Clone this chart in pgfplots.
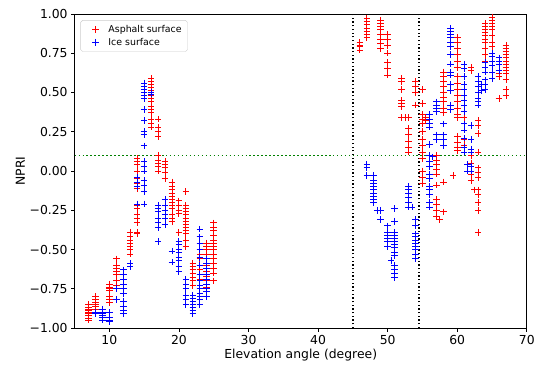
\documentclass[border=0pt]{standalone}
\usepackage{pgfplots}
\pgfplotsset{compat=1.18}
\usepackage{fontspec}
\setmainfont{DejaVu Sans}
\definecolor{mplgreen}{RGB}{0,128,0}
\definecolor{myred}{RGB}{255,0,0}
\definecolor{myblue}{RGB}{0,0,255}
\begin{document}
\begin{tikzpicture}
\begin{axis}[
 name=ax,
 scale only axis, width=455bp, height=316bp,
 xmin=5, xmax=70, ymin=-1, ymax=1,
 xtick={10,20,...,70},
 ytick={-1,-0.75,-0.5,-0.25,0,0.25,0.5,0.75,1},
 yticklabels={−1.00,−0.75,−0.50,−0.25,0.00,0.25,0.50,0.75,1.00},
 tick align=outside, tick pos=left, major tick length=3.5bp,
 ticklabel style={font=\fontsize{12.5}{14}\selectfont},
 label style={font=\fontsize{12.5}{14}\selectfont},
 xlabel={Elevation angle (degree)}, ylabel={NPRI},
 xlabel style={yshift=2bp},
 ylabel style={yshift=-2bp},
 /pgf/number format/assume math mode=true,
 axis line style={line width=0.8bp},
 every tick/.style={line width=0.8bp},
 legend style={at={(0.013,0.98)}, anchor=north west, draw=black!20, rounded corners=2bp,
   font=\fontsize{9.5}{11}\selectfont, inner xsep=4bp, inner ysep=3bp, row sep=0bp},
 legend image code/.code={\path[draw=none,fill=none] (0bp,0bp) (22bp,0bp); \draw[mark repeat=2, mark phase=2] plot coordinates {(0bp,0bp)(11bp,0bp)(22bp,0bp)};},
 legend cell align=left,
]
\addplot[only marks, mark=+, mark size=3.3bp, draw=myred, line width=0.9bp, mark options={draw=myred}] coordinates {
(7,-0.85)(7,-0.87)(7,-0.88)(7,-0.89)(7,-0.90)(7,-0.91)(7,-0.92)(7,-0.94)(7,-0.95)
(8,-0.80)(8,-0.82)(8,-0.84)(8,-0.85)(8,-0.86)(8,-0.88)
(10,-0.72)(10,-0.74)(10,-0.75)(10,-0.76)(10,-0.80)(10,-0.82)(10,-0.84)
(11,-0.56)(11,-0.60)(11,-0.62)(11,-0.64)(11,-0.66)(11,-0.70)(11,-0.73)
(13,-0.39)(13,-0.42)(13,-0.44)(13,-0.46)(13,-0.48)(13,-0.50)(13,-0.53)
(14,0.08)(14,0.06)(14,0.04)(14,0.00)(14,-0.05)(14,-0.08)(14,-0.11)(14,-0.22)(14,-0.24)(14,-0.28)(14,-0.30)(14,-0.33)(14,-0.39)(14,-0.40)
(16,0.59)(16,0.57)(16,0.55)(16,0.53)(16,0.51)(16,0.50)(16,0.48)(16,0.46)(16,0.44)(16,0.41)(16,0.39)(16,0.37)(16,0.33)(16,0.30)(16,0.28)
(17,0.33)(17,0.28)(17,0.25)(17,0.22)(17,0.10)(17,0.07)(17,0.05)(17,0.03)(17,0.00)
(18,0.06)(18,0.04)(18,0.02)(18,-0.01)(18,-0.05)
(19,-0.07)(19,-0.10)(19,-0.12)(19,-0.14)(19,-0.16)(19,-0.18)(19,-0.20)(19,-0.22)(19,-0.24)(19,-0.28)(19,-0.30)(19,-0.32)
(20,-0.19)(20,-0.22)(20,-0.25)(20,-0.27)(20,-0.39)
(21,-0.13)(21,-0.22)(21,-0.24)(21,-0.26)(21,-0.28)(21,-0.30)(21,-0.32)(21,-0.34)(21,-0.36)(21,-0.38)(21,-0.40)(21,-0.44)(21,-0.48)
(22,-0.59)(22,-0.61)(22,-0.63)(22,-0.65)(22,-0.68)(22,-0.70)(22,-0.73)
(23,-0.42)(23,-0.46)(23,-0.50)(23,-0.53)(23,-0.56)(23,-0.60)(23,-0.63)(23,-0.66)(23,-0.69)
(24,-0.46)(24,-0.48)(24,-0.50)(24,-0.53)(24,-0.56)(24,-0.60)(24,-0.64)(24,-0.67)(24,-0.70)(24,-0.74)(24,-0.77)
(25,-0.33)(25,-0.36)(25,-0.38)(25,-0.41)(25,-0.44)(25,-0.46)(25,-0.48)(25,-0.50)(25,-0.53)(25,-0.56)(25,-0.59)(25,-0.62)(25,-0.65)(25,-0.70)
(46,0.82)(46,0.80)(46,0.79)(46,0.77)
(47,0.97)(47,0.95)(47,0.93)(47,0.91)(47,0.89)(47,0.87)(47,0.85)
(49,0.96)(49,0.94)(49,0.92)(49,0.90)(49,0.87)(49,0.84)(49,0.81)(49,0.78)
(50,0.87)(50,0.84)(50,0.80)(50,0.75)(50,0.69)(50,0.65)(50,0.61)
(52,0.59)(52,0.57)(52,0.52)(52,0.45)(52,0.43)(52,0.41)(52,0.34)(52.5,0.34)(53,0.34)
(53,0.27)(53,0.23)(53,0.19)(53,0.15)(53,0.12)
(54,0.57)(54,0.54)(54,0.50)(54,0.42)
(55,0.52)(55,0.43)(55,0.36)(55,0.33)(55,0.30)(55,0.25)(55,0.20)(55,0.16)(55,0.12)(55,0.08)(55,0.00)(55,-0.04)(55,-0.08)(55.5,0.34)(55.5,0.32)
(57,0.10)(57,0.07)(57,0.04)(57,0.01)(57,-0.02)(57,-0.09)(57,-0.18)(57,-0.21)(57,-0.25)(57,-0.29)(57.5,-0.31)
(58,-0.07)(58,-0.26)(58,0.63)(58,0.60)(58,0.57)(58,0.54)(58,0.50)(58,0.47)(58,0.44)(58,0.40)(58,0.37)
(59.4,-0.03)
(60,0.85)(60,0.82)(60,0.78)(60,0.74)(60,0.70)(60,0.66)(60,0.60)(60,0.56)(60,0.52)(60,0.48)(60,0.44)(60,0.40)(60,0.36)(60,0.34)(60,0.22)(60,0.18)(60,0.15)(60,0.13)
(61,0.20)(61,0.16)(61,0.34)
(62,0.66)(62,0.64)(62,0.10)(62,0.05)(62,-0.02)(62,-0.06)(62.5,-0.12)
(63,0.32)(63,0.29)(63,0.24)(63,0.12)(63,0.02)(63,-0.01)(63,-0.04)(63,-0.12)(63,-0.15)(63,-0.20)(63,-0.25)(63,-0.39)
(64,0.94)(64,0.92)(64,0.90)(64,0.88)(64,0.86)(64,0.84)(64,0.82)(64,0.78)(64,0.74)(64,0.70)
(65,0.98)(65,0.96)(65,0.94)(65,0.92)(65,0.90)(65,0.86)(65,0.82)(65,0.79)(65,0.75)(65,0.70)
(66,0.46)(66,0.62)(66,0.60)
(67,0.80)(67,0.78)(67,0.76)(67,0.74)(67,0.72)(67,0.70)(67,0.68)(67,0.66)(67,0.64)(67,0.62)(67,0.58)(67,0.52)(67,0.48)
};
\addlegendentry{Asphalt surface}
\addplot[only marks, mark=+, mark size=3.3bp, draw=myblue, line width=0.9bp, mark options={draw=myblue}] coordinates {
(8,-0.90)(8,-0.91)
(9,-0.88)(9,-0.90)(9,-0.91)(9,-0.92)(9,-0.93)(9,-0.95)
(10,-0.90)(10,-0.93)(10,-0.95)(10,-0.96)
(11,-0.75)(11,-0.82)
(12,-0.63)(12,-0.66)(12,-0.69)(12,-0.72)(12,-0.75)(12,-0.78)(12,-0.83)(12,-0.86)(12,-0.89)(12,-0.91)
(13,-0.59)(13,-0.61)
(14,-0.04)(14,-0.07)(14,-0.10)(14,-0.21)
(15,0.56)(15,0.54)(15,0.52)(15,0.50)(15,0.48)(15,0.46)(15,0.39)(15,0.32)(15,0.25)(15,0.23)(15,0.16)(15,0.06)(15,0.03)(15,0.00)(15,-0.06)(15,-0.09)(15,-0.13)(15,-0.21)
(16,0.50)(16,0.49)
(17,-0.22)(17,-0.24)(17,-0.26)(17,-0.30)(17,-0.33)(17,-0.36)(17,-0.45)
(18,-0.18)(18,-0.22)(18,-0.25)(18,-0.28)(18,-0.30)(18,-0.34)
(19,-0.51)(19,-0.58)
(20,-0.45)(20,-0.47)(20,-0.50)(20,-0.52)(20,-0.55)(20,-0.57)(20,-0.61)(20,-0.64)
(21,-0.69)(21,-0.72)(21,-0.75)(21,-0.79)(21,-0.82)(21,-0.85)
(22,-0.79)(22,-0.81)(22,-0.83)(22,-0.85)(22,-0.87)(22,-0.89)(22,-0.91)
(23,-0.37)(23,-0.42)(23,-0.46)(23,-0.50)(23,-0.55)(23,-0.60)(23,-0.66)(23,-0.70)(23,-0.73)(23,-0.75)(23,-0.78)(23,-0.80)(23,-0.82)(23,-0.85)
(24,-0.56)(24,-0.59)(24,-0.62)(24,-0.66)(24,-0.69)(24,-0.72)(24,-0.75)(24,-0.77)(24,-0.80)
(47,0.04)(47,0.02)(47,-0.03)
(48,-0.03)(48,-0.06)(48,-0.08)(48,-0.10)(48,-0.12)(48,-0.14)(48,-0.16)(48,-0.18)(48,-0.20)
(48.5,-0.25)(49,-0.25)(49,-0.31)
(50,-0.35)(50,-0.39)(50,-0.41)(50,-0.43)(50,-0.45)(50,-0.48)(50.5,-0.57)
(51,-0.24)(51,-0.32)(51,-0.39)(51,-0.41)(51,-0.43)(51,-0.45)(51,-0.47)(51,-0.49)(51,-0.52)(51,-0.54)(51,-0.60)(51,-0.63)(51,-0.65)(51,-0.68)
(53,-0.10)(53,-0.12)(53,-0.14)(53,-0.17)(53,-0.20)(53,-0.23)(53.5,-0.23)
(54,-0.31)(54,-0.35)(54,-0.40)(54,-0.42)(54,-0.44)(54,-0.46)(54,-0.48)(54,-0.50)(54,-0.53)(54,-0.56)
(56,0.36)(56,0.33)(56,0.30)(56,0.28)(56,0.17)(56,0.10)(56,0.06)(56,0.03)(56,-0.02)(56,-0.05)(56,-0.10)(56,-0.12)(56,-0.15)(56,-0.20)(56,-0.23)(56.5,0.09)
(57,0.44)(57,0.42)(57,0.40)(57,0.38)(57,0.23)(57,0.20)
(58,0.30)(58,0.23)(58,0.20)(58,0.16)
(59,0.91)(59,0.89)(59,0.87)(59,0.85)(59,0.82)(59,0.79)(59,0.74)(59,0.68)(59,0.63)(59,0.61)(59,0.55)(59,0.51)(59,0.42)(59,0.39)
(61,0.68)(61,0.65)(61,0.60)(61,0.55)(61,0.52)(61,0.48)(61,0.45)(61,0.42)(61,0.38)(61,0.30)(61,0.26)(61,0.21)(61,0.15)(61,0.12)
(62,0.29)(62,0.20)(62,0.14)(62,0.12)(62,0.03)(62,0.00)(61.5,0.04)(61.5,0.00)
(63,0.60)(63,0.57)(63,0.54)(63,0.50)(63,0.46)(63,0.44)(63,0.42)(63.5,0.55)(63.5,0.51)
(64,0.69)(64,0.66)(64,0.63)(64,0.58)(64,0.55)(64,0.52)
(65,0.75)(65,0.73)(65,0.70)(65,0.67)(65,0.63)(65,0.59)
(66,0.72)(66,0.70)(66,0.68)(66,0.64)
};
\addlegendentry{Ice surface}
\addplot[forget plot, draw=mplgreen, line width=1.5bp, dash pattern=on 1.5bp off 2.5bp] coordinates {(5,0.1) (70,0.1)};
\addplot[forget plot, draw=black, line width=1.3bp, dash pattern=on 1.3bp off 2.4bp] coordinates {(45,-1) (45,1)};
\addplot[forget plot, draw=black, line width=1.3bp, dash pattern=on 1.3bp off 2.4bp] coordinates {(54.5,-1) (54.5,1)};
\end{axis}
\path (ax.south west) ++(-75bp,-41bp) rectangle ++(538bp,371bp);
\end{tikzpicture}
\end{document}
